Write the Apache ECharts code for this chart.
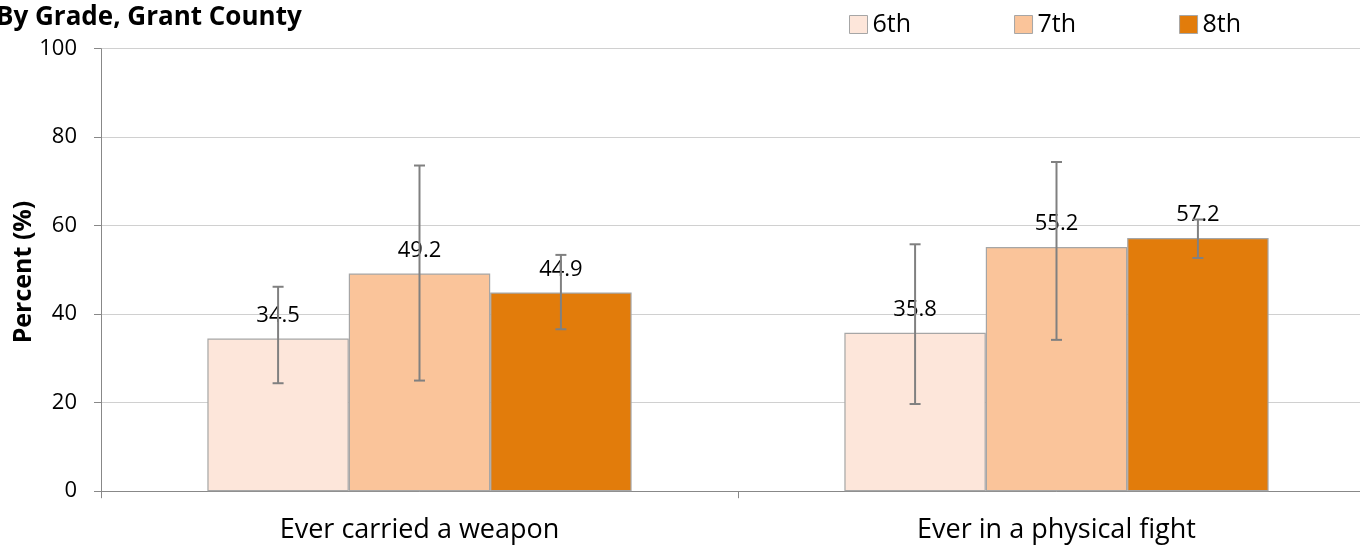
<!DOCTYPE html>
<html><head><meta charset="utf-8">
<script src="https://cdn.jsdelivr.net/npm/echarts@6/dist/echarts.min.js"></script>
<style>html,body{margin:0;padding:0;background:#fff;overflow:hidden}#c{width:1375px;height:552px}</style>
</head><body><div id="c"></div>
<script>
const categories = ['Ever carried a weapon', 'Ever in a physical fight'];
const grades = ['6th', '7th', '8th'];
const values6 = [34.5, 35.8];
const values7 = [49.2, 55.2];
const values8 = [44.9, 57.2];
const low6 = [24.4, 19.7];
const high6 = [46.2, 55.8];
const low7 = [25.0, 34.2];
const high7 = [73.6, 74.4];
const low8 = [36.6, 52.7];
const high8 = [53.4, 61.4];
const yTicks = [0, 20, 40, 60, 80, 100];

const colors = ['#FDE6DA', '#FAC49A', '#E27C0B'];
const FONT = 'Open Sans';
const CAT_GAP = 0.334;
const valueSets = [values6, values7, values8];
const lows = [low6, low7, low8];
const highs = [high6, high7, high8];

const chart = echarts.init(document.getElementById('c'));
const series = [];
grades.forEach((g, i) => {
  series.push({
    name: g, type: 'bar', data: valueSets[i],
    barGap: '0%', barCategoryGap: (CAT_GAP * 100) + '%',
    itemStyle: { color: colors[i], borderColor: '#A6A6A6', borderWidth: 1.2 },
    label: { show: true, position: 'top', distance: 12, color: '#000', fontFamily: FONT, fontSize: 22 },
    z: 2
  });
});
grades.forEach((g, i) => {
  series.push({
    type: 'custom', name: g + ' err',
    data: categories.map((c, k) => [k, lows[i][k], highs[i][k]]),
    z: 5,
    renderItem: function (params, api) {
      const k = api.value(0);
      const band = api.size([1, 0])[0];
      const bw = band * (1 - CAT_GAP) / 3;
      const pLo = api.coord([k, api.value(1)]);
      const pHi = api.coord([k, api.value(2)]);
      const x = pLo[0] + (i - 1) * bw;
      const hw = 5.5;
      const st = { stroke: '#808080', lineWidth: 2 };
      return { type: 'group', children: [
        { type: 'line', shape: { x1: x, y1: pLo[1], x2: x, y2: pHi[1] }, style: st },
        { type: 'line', shape: { x1: x - hw, y1: pLo[1], x2: x + hw, y2: pLo[1] }, style: st },
        { type: 'line', shape: { x1: x - hw, y1: pHi[1], x2: x + hw, y2: pHi[1] }, style: st }
      ]};
    },
    silent: true
  });
});

chart.setOption({
  animation: false,
  title: { text: 'By Grade, Grant County', left: -9, top: 0,
    textStyle: { fontFamily: FONT, fontWeight: 'bold', fontSize: 26, color: '#000' } },
  legend: {
    data: grades, left: 849, top: 12, padding: 0, itemGap: 103, itemWidth: 18, itemHeight: 18,
    textStyle: { fontFamily: FONT, fontSize: 25, color: '#000' },
    icon: 'rect',
    itemStyle: { borderColor: '#A6A6A6', borderWidth: 1 }
  },
  graphic: [{
    type: 'text', x: 24, y: 272, rotation: Math.PI / 2,
    style: { text: 'Percent (%)', fontFamily: FONT, fontWeight: 'bold', fontSize: 25, fill: '#000',
      textAlign: 'center', textVerticalAlign: 'middle' }
  }],
  grid: { left: 101, top: 48.7, right: 0, bottom: 60.8, containLabel: false },
  xAxis: {
    type: 'category', data: categories,
    axisLine: { lineStyle: { color: '#888', width: 1 } },
    axisTick: { show: true, length: 7, lineStyle: { color: '#888' } },
    axisLabel: { fontFamily: FONT, fontSize: 27, color: '#000', margin: 26 }
  },
  yAxis: {
    type: 'value', min: 0, max: 100, interval: 20,
    axisLine: { show: true, lineStyle: { color: '#888', width: 1 } },
    axisTick: { show: true, length: 7, lineStyle: { color: '#888' } },
    axisLabel: { fontFamily: FONT, fontSize: 22, color: '#000', margin: 24,
      formatter: v => yTicks.includes(v) ? String(v) : '' },
    splitLine: { lineStyle: { color: '#D0D0D0', width: 1.2 } }
  },
  series: series
});
</script></body></html>
